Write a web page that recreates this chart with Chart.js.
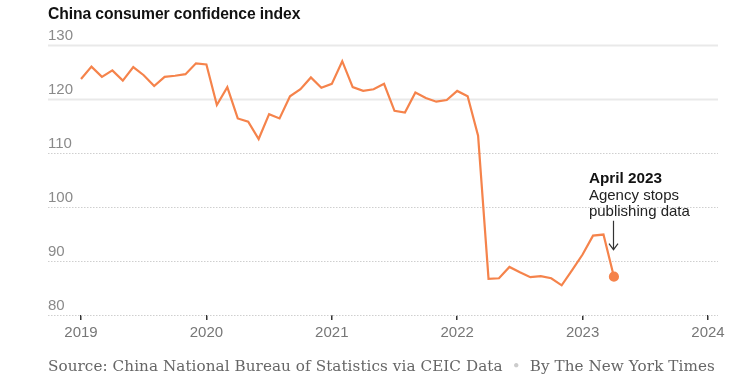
<!DOCTYPE html>
<html>
<head>
<meta charset="utf-8">
<script src="https://cdn.jsdelivr.net/npm/chart.js@4/dist/chart.umd.min.js"></script>
<style>
  html, body { margin: 0; padding: 0; background: #fff; }
  #wrap { position: relative; width: 742px; height: 380px; overflow: hidden; }
  #title { position: absolute; left: 48px; top: 5px; font-family: "Liberation Sans", Arial, sans-serif; font-weight: bold; font-size: 15.7px; color: #121212; letter-spacing: -0.1px; }
  #source { position: absolute; left: 48px; top: 357px; font-family: "DejaVu Serif", Georgia, serif; font-size: 15.2px; color: #666; white-space: nowrap; letter-spacing: 0.07px; }
  #source .dot { color: #ccc; margin: 0 9px; }
  canvas { position: absolute; left: 0; top: 0; }
</style>
</head>
<body>
<div id="wrap">
  <canvas id="c" width="742" height="380"></canvas>
  <div id="title">China consumer confidence index</div>
  <div id="source">Source: China National Bureau of Statistics via CEIC Data<span class="dot">•</span>By The New York Times</div>
</div>
<script>
// Monthly consumer confidence index values (Jan..Dec)
const cci2019 = [123.7, 126.0, 124.1, 125.3, 123.4, 125.9, 124.4, 122.4, 124.1, 124.3, 124.6, 126.6];
const cci2020 = [126.4, 118.9, 122.2, 116.4, 115.8, 112.6, 117.2, 116.4, 120.5, 121.8, 124.0, 122.1];
const cci2021 = [122.8, 127.0, 122.2, 121.5, 121.8, 122.8, 117.8, 117.5, 121.2, 120.2, 119.5, 119.8];
const cci2022 = [121.5, 120.5, 113.2, 86.7, 86.8, 88.9, 87.9, 87.0, 87.2, 86.8, 85.5, 88.3];
const cci2023 = [91.2, 94.7, 94.9, 87.1];
const yearLabels = ['2019', '2020', '2021', '2022', '2023', '2024'];
const yTicks = [80, 90, 100, 110, 120, 130];
const annoTitle = 'April 2023';
const annoLines = ['Agency stops', 'publishing data'];

const allValues = [].concat(cci2019, cci2020, cci2021, cci2022, cci2023);
const points = allValues.map((v, i) => ({ x: i, y: v }));
const lastIdx = points.length - 1;
const orange = '#f5834b';

const gridPlugin = {
  id: 'customGrid',
  beforeDatasetsDraw(chart) {
    const { ctx, chartArea, scales } = chart;
    ctx.save();
    yTicks.forEach(v => {
      const y = Math.round(scales.y.getPixelForValue(v));
      ctx.beginPath();
      if (v >= 120) {
        ctx.strokeStyle = '#e9e9e9';
        ctx.lineWidth = 2;
        ctx.setLineDash([]);
      } else {
        ctx.strokeStyle = '#cfcfcf';
        ctx.lineWidth = 1;
        ctx.setLineDash([1.5, 1.5]);
      }
      ctx.moveTo(chartArea.left, y + 0.5);
      ctx.lineTo(chartArea.right, y + 0.5);
      ctx.stroke();
    });
    ctx.restore();
  }
};

const annoPlugin = {
  id: 'anno',
  afterDatasetsDraw(chart) {
    const { ctx, scales } = chart;
    const px = scales.x.getPixelForValue(lastIdx);
    const py = scales.y.getPixelForValue(allValues[lastIdx]);
    ctx.save();
    const tx = px - 25;
    ctx.textBaseline = 'middle';
    ctx.textAlign = 'left';
    ctx.fillStyle = '#121212';
    ctx.font = 'bold 15.3px "Liberation Sans", Arial, sans-serif';
    ctx.fillText(annoTitle, tx, py - 98);
    ctx.font = '15px "Liberation Sans", Arial, sans-serif';
    ctx.fillStyle = '#222';
    annoLines.forEach((t, i) => ctx.fillText(t, tx, py - 81 + i * 16));
    // arrow
    const ax = Math.round(px - 1) + 0.5;
    ctx.strokeStyle = '#333';
    ctx.lineWidth = 1.2;
    ctx.beginPath();
    ctx.moveTo(ax, py - 56);
    ctx.lineTo(ax, py - 27);
    ctx.moveTo(ax - 4.5, py - 33);
    ctx.lineTo(ax, py - 27);
    ctx.lineTo(ax + 4.5, py - 33);
    ctx.stroke();
    ctx.restore();
  }
};

new Chart(document.getElementById('c'), {
  type: 'line',
  data: {
    datasets: [{
      data: points,
      borderColor: orange,
      backgroundColor: orange,
      borderWidth: 2.2,
      tension: 0,
      pointRadius: ctx => ctx.dataIndex === lastIdx ? 4 : 0,
      pointHoverRadius: 0,
      clip: false
    }]
  },
  options: {
    responsive: false,
    animation: false,
    events: [],
    layout: { padding: { left: 48, right: 24, top: 45, bottom: 0 } },
    plugins: { legend: { display: false }, tooltip: { enabled: false }, title: { display: false } },
    scales: {
      x: {
        type: 'linear',
        min: -3.16,
        max: 60.96,
        afterBuildTicks: s => { s.ticks = yearLabels.map((l, i) => ({ value: i * 12 })); },
        afterFit: s => { s.height = 65; },
        ticks: {
          callback: (v) => yearLabels[Math.round(v / 12)],
          color: '#777',
          font: { family: '"Liberation Sans", Arial, sans-serif', size: 15 },
          padding: 4,
          maxRotation: 0,
          autoSkip: false
        },
        grid: { display: true, drawOnChartArea: false, drawTicks: true, tickLength: 5, color: '#333', lineWidth: 1.5 },
        border: { display: false }
      },
      y: {
        min: 80,
        max: 130,
        afterBuildTicks: s => { s.ticks = yTicks.map(v => ({ value: v })); },
        afterFit: s => { s.width = 0; },
        ticks: {
          mirror: true,
          padding: 0,
          labelOffset: -9,
          color: '#8a8a8a',
          font: { family: '"Liberation Sans", Arial, sans-serif', size: 15 }
        },
        grid: { display: false, drawTicks: false },
        border: { display: false }
      }
    }
  },
  plugins: [gridPlugin, annoPlugin]
});
</script>
</body>
</html>
